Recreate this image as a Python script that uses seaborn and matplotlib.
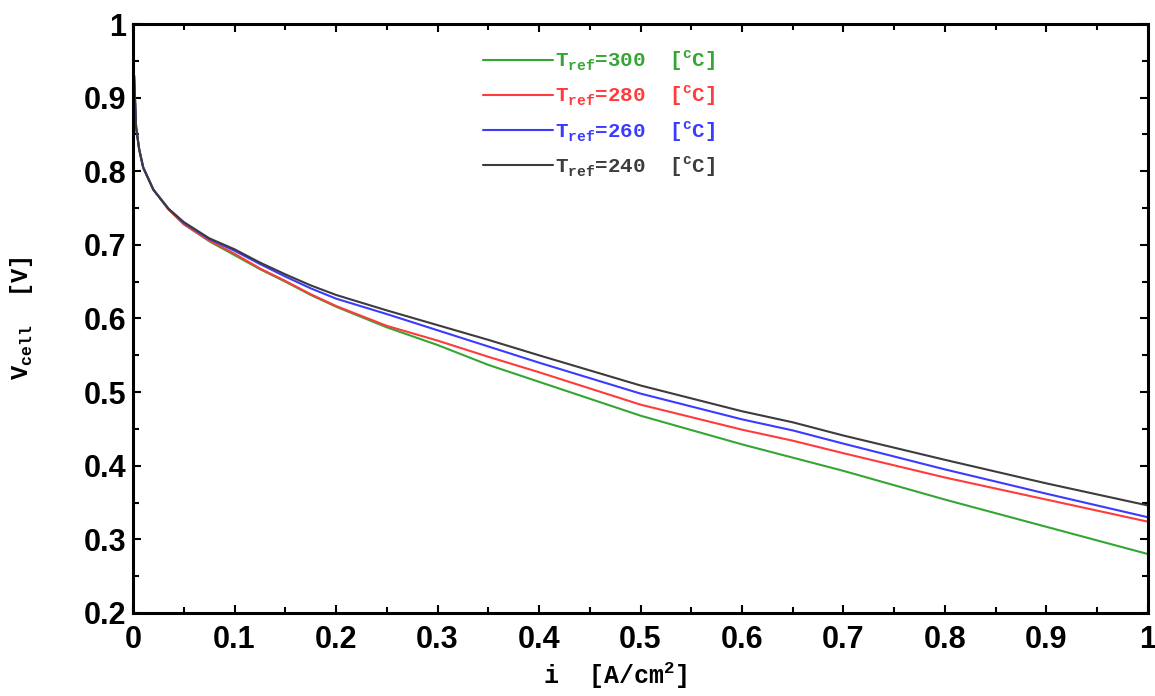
import numpy as np
import pandas as pd
import matplotlib
matplotlib.use("Agg")
import matplotlib.pyplot as plt
from matplotlib.ticker import MultipleLocator, FuncFormatter
import seaborn as sns

# Current density [A/cm^2]
current = [0.001, 0.003, 0.006, 0.01, 0.02, 0.035, 0.05, 0.075, 0.1, 0.125,
           0.15, 0.175, 0.2, 0.25, 0.3, 0.35, 0.4, 0.5, 0.6, 0.65, 0.7, 0.8, 0.9, 1.0]

# Cell voltage [V] for each reforming temperature
v_300 = [0.93, 0.86, 0.83, 0.805, 0.775, 0.748, 0.728, 0.705, 0.686, 0.667,
         0.650, 0.632, 0.616, 0.588, 0.564, 0.537, 0.514, 0.468, 0.429, 0.411, 0.393, 0.354, 0.317, 0.280]
v_280 = [0.93, 0.86, 0.83, 0.805, 0.775, 0.748, 0.728, 0.706, 0.688, 0.668,
         0.651, 0.633, 0.617, 0.590, 0.570, 0.548, 0.527, 0.483, 0.449, 0.434, 0.417, 0.384, 0.354, 0.324]
v_260 = [0.93, 0.86, 0.83, 0.805, 0.775, 0.749, 0.730, 0.708, 0.692, 0.674,
         0.657, 0.641, 0.627, 0.606, 0.584, 0.562, 0.540, 0.498, 0.463, 0.448, 0.430, 0.395, 0.362, 0.330]
v_240 = [0.93, 0.86, 0.83, 0.805, 0.775, 0.749, 0.731, 0.709, 0.694, 0.676,
         0.660, 0.645, 0.632, 0.611, 0.591, 0.571, 0.550, 0.509, 0.474, 0.459, 0.441, 0.408, 0.376, 0.346]

temperatures = [300, 280, 260, 240]
series = [v_300, v_280, v_260, v_240]
colors = ["#33a633", "#ff3b3b", "#3b3bff", "#3c3c3c"]

labels = [r"T$_\mathregular{ref}$=%d  [$^\mathregular{c}$C]" % t for t in temperatures]

df = pd.DataFrame({
    "i": np.concatenate([current] * len(series)),
    "V": np.concatenate(series),
    "T": np.repeat(labels, len(current)),
})

sns.set_style("ticks")
mono = ["Liberation Mono", "DejaVu Sans Mono"]
sans = ["Liberation Sans", "DejaVu Sans"]

fig = plt.figure(figsize=(11.55, 6.96), dpi=100)
ax = fig.add_axes([0.1152, 0.1193, 0.8787, 0.8462])

sns.lineplot(data=df, x="i", y="V", hue="T", hue_order=labels,
             palette=colors, linewidth=1.5, ax=ax, legend=True, sort=False)

ax.set_xlim(0, 1)
ax.set_ylim(0.2, 1)
ax.xaxis.set_major_locator(MultipleLocator(0.1))
ax.xaxis.set_minor_locator(MultipleLocator(0.05))
ax.yaxis.set_major_locator(MultipleLocator(0.1))
ax.yaxis.set_minor_locator(MultipleLocator(0.05))
fmt = FuncFormatter(lambda v, p: "{:g}".format(round(v, 2)))
ax.xaxis.set_major_formatter(fmt)
ax.yaxis.set_major_formatter(fmt)

ax.tick_params(which="both", direction="in", top=True, right=True, width=1.5,
               color="black", labelcolor="black")
ax.tick_params(which="major", length=6)
ax.tick_params(which="minor", length=4)
ax.tick_params(axis="x", which="major", pad=9)
ax.tick_params(axis="y", which="major", pad=5)
for lab in ax.get_xticklabels() + ax.get_yticklabels():
    lab.set_fontfamily(sans)
    lab.set_fontweight("bold")
    lab.set_fontsize(22)
for sp in ax.spines.values():
    sp.set_linewidth(2.2)
    sp.set_color("black")

ax.set_xlabel(r"i  [A/cm$^\mathregular{2}$]", fontfamily=mono, fontweight="bold",
              fontsize=18, color="black")
ax.set_ylabel(r"V$_\mathregular{cell}$  [V]", fontfamily=mono, fontweight="bold",
              fontsize=17, color="black")
ax.xaxis.set_label_coords(0.475, -0.08)
ax.yaxis.set_label_coords(-0.097, 0.5)

leg = ax.legend(loc="upper left", bbox_to_anchor=(0.326, 0.99), frameon=False,
                prop={"family": mono, "weight": "bold", "size": 15},
                handlelength=3.4, handletextpad=0.05, labelspacing=0.5)
for txt, c in zip(leg.get_texts(), colors):
    txt.set_color(c)
for h in leg.get_lines():
    h.set_linewidth(1.5)

fig.savefig("out.png", dpi=100)
